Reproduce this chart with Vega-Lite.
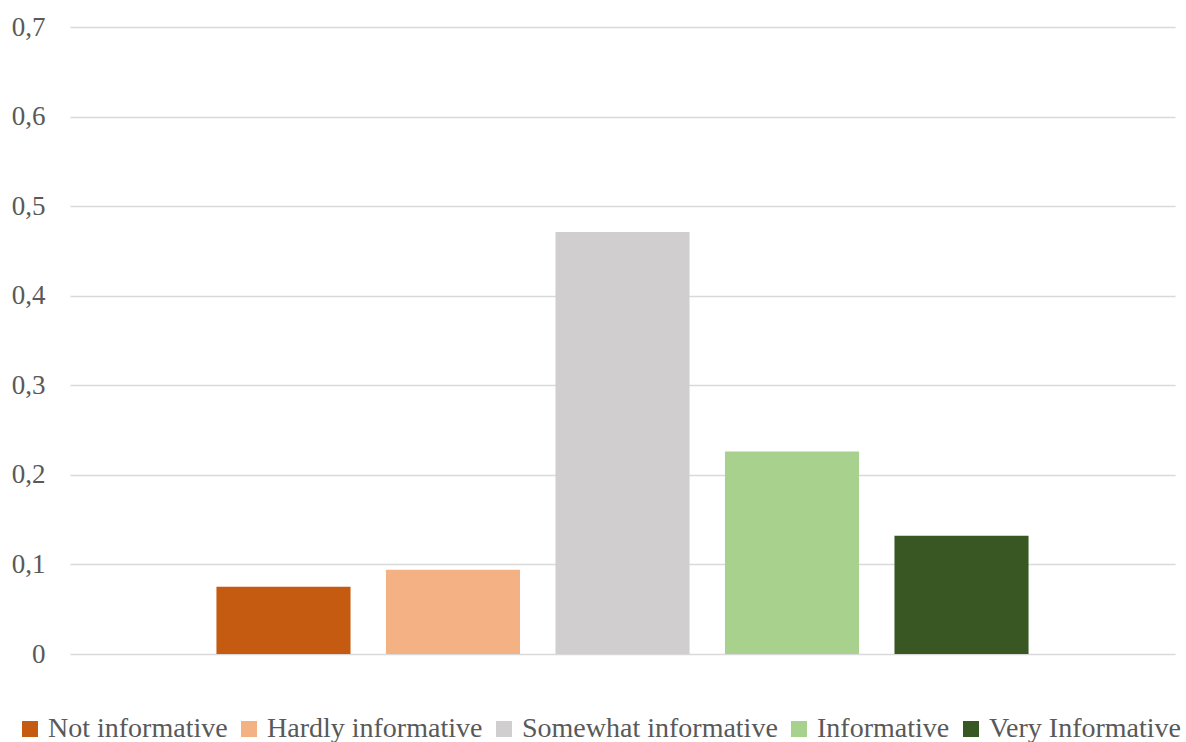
{
  "$schema": "https://vega.github.io/schema/vega-lite/v6.json",
  "width": 1105,
  "height": 627,
  "autosize": {"type": "none"},
  "padding": {"top": 27, "left": 70, "right": 11, "bottom": 88},
  "background": "white",
  "data": {
    "values": [
      {"category": "Not informative", "share": 0.075},
      {"category": "Hardly informative", "share": 0.094},
      {"category": "Somewhat informative", "share": 0.471},
      {"category": "Informative", "share": 0.226},
      {"category": "Very Informative", "share": 0.132}
    ]
  },
  "mark": {"type": "bar"},
  "encoding": {
    "x": {
      "field": "category",
      "type": "nominal",
      "sort": null,
      "axis": null,
      "scale": {"paddingInner": 0.209, "paddingOuter": 0.864}
    },
    "y": {
      "field": "share",
      "type": "quantitative",
      "scale": {"domain": [0, 0.7], "nice": false},
      "axis": {
        "title": null,
        "values": [0, 0.1, 0.2, 0.3, 0.4, 0.5, 0.6, 0.7],
        "labelExpr": "datum.value == 0 ? '0' : replace(format(datum.value, '.1f'), '.', ',')",
        "domain": false,
        "ticks": false,
        "labelPadding": 25,
        "grid": true,
        "gridColor": "#D9D9D9",
        "gridWidth": 1.5,
        "labelFont": "Liberation Serif",
        "labelFontSize": 27,
        "labelColor": "#595959"
      }
    },
    "color": {
      "field": "category",
      "type": "nominal",
      "sort": null,
      "scale": {
        "domain": ["Not informative", "Hardly informative", "Somewhat informative", "Informative", "Very Informative"],
        "range": ["#C55A11", "#F4B183", "#D0CECE", "#A9D18E", "#385723"]
      },
      "legend": {
        "title": null,
        "orient": "none",
        "direction": "horizontal",
        "legendX": -54,
        "legendY": 688,
        "padding": 0,
        "symbolType": "square",
        "symbolSize": 256,
        "symbolStrokeWidth": 0,
        "symbolOpacity": 1,
        "labelFont": "Liberation Serif",
        "labelFontSize": 28,
        "labelColor": "#595959",
        "labelOffset": 4,
        "labelLimit": 400,
        "columnPadding": 7
      }
    }
  },
  "config": {
    "view": {"stroke": null}
  }
}
